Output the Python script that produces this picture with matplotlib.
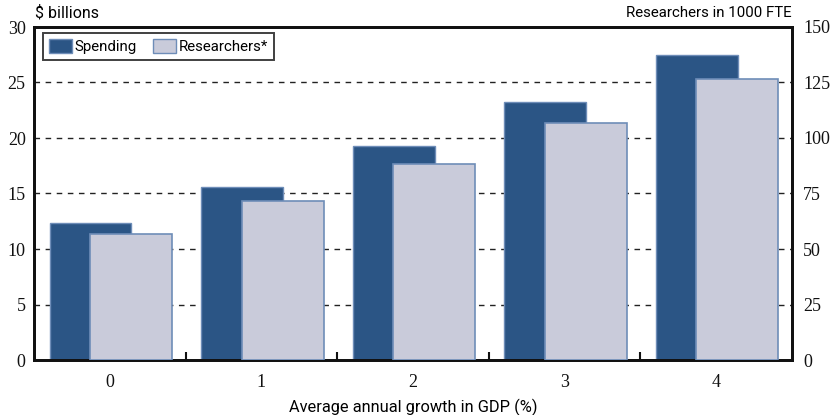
import matplotlib
matplotlib.use("Agg")
import matplotlib.pyplot as plt
from matplotlib.patches import Patch
import numpy as np

# GDP growth scenarios (% per year)
growth = [0, 1, 2, 3, 4]
growth_labels = ["0", "1", "2", "3", "4"]
# R&D spending, $ billions (left axis)
spending = [12.3, 15.6, 19.25, 23.2, 27.5]
# Researchers, thousands of FTE (right axis)
researchers = [56.6, 71.7, 88.4, 106.7, 126.7]

serif = ["Liberation Serif", "DejaVu Serif"]
narrow = ["Roboto", "DejaVu Sans"]

fig = plt.figure(figsize=(8.32, 4.15), dpi=100)
ax = fig.add_axes([34 / 832, 1 - 360 / 415, 758 / 832, 333 / 415])
ax2 = ax.twinx()

x = np.arange(len(growth))
w = 0.54
dark = "#2B5585"
light = "#C9CBDA"
edge = "#6E8DB8"

ax.bar(x - 0.127, spending, width=w, color=dark, edgecolor=edge,
       linewidth=1.0, zorder=2)
ax2.bar(x + 0.14, researchers, width=w, color=light, edgecolor=edge,
        linewidth=1.2, zorder=3)

ax.set_xlim(-0.5, 4.5)
ax.set_ylim(0, 30)
ax2.set_ylim(0, 150)
ax.set_yticks(range(0, 31, 5))
ax2.set_yticks(range(0, 151, 25))

# dashed horizontal grid
for v in range(5, 30, 5):
    ax.axhline(v, color="#222222", linestyle=(0, (4, 4)), linewidth=1.0,
               zorder=1)

ax.set_xticks(x)
ax.set_xticklabels(growth_labels)
ax.tick_params(axis="x", length=0, pad=10)
ax.set_xticks(np.arange(0.5, 4.5, 1), minor=True)
ax.tick_params(axis="x", which="minor", direction="in", length=6,
               width=1.5, color="#111111")
ax.tick_params(axis="y", length=0, pad=6)
ax2.tick_params(axis="y", length=0, pad=8)

for lab in ax.get_xticklabels() + ax.get_yticklabels() + ax2.get_yticklabels():
    lab.set_fontfamily(serif)
    lab.set_fontsize(13)
    lab.set_color("#111111")

for a in (ax, ax2):
    for s in a.spines.values():
        s.set_linewidth(2.0)
        s.set_color("#111111")

ax.set_xlabel("Average annual growth in GDP (%)", family=narrow,
              fontsize=11.8, labelpad=6)

fig.text(35 / 832, 1 - 13 / 415, r"\$ billions", family=narrow, fontsize=11.5,
         ha="left", va="center")
fig.text(792 / 832, 1 - 13 / 415, "Researchers in 1000 FTE", family=narrow,
         fontsize=10.8, ha="right", va="center")

handles = [Patch(facecolor=dark, edgecolor=edge, label="Spending"),
           Patch(facecolor=light, edgecolor=edge, label="Researchers*")]
leg = ax2.legend(handles=handles, loc="upper left",
                 bbox_to_anchor=(9 / 758, 1 - 6 / 333), ncol=2,
                 frameon=True, fancybox=False, borderaxespad=0,
                 handlelength=1.5, handleheight=1.1, handletextpad=0.2,
                 columnspacing=1.1, borderpad=0.4,
                 prop={"family": narrow, "size": 10.8})
leg.get_frame().set_edgecolor("#111111")
leg.get_frame().set_linewidth(1.4)
leg.set_zorder(5)

fig.savefig("out.png", dpi=100)
